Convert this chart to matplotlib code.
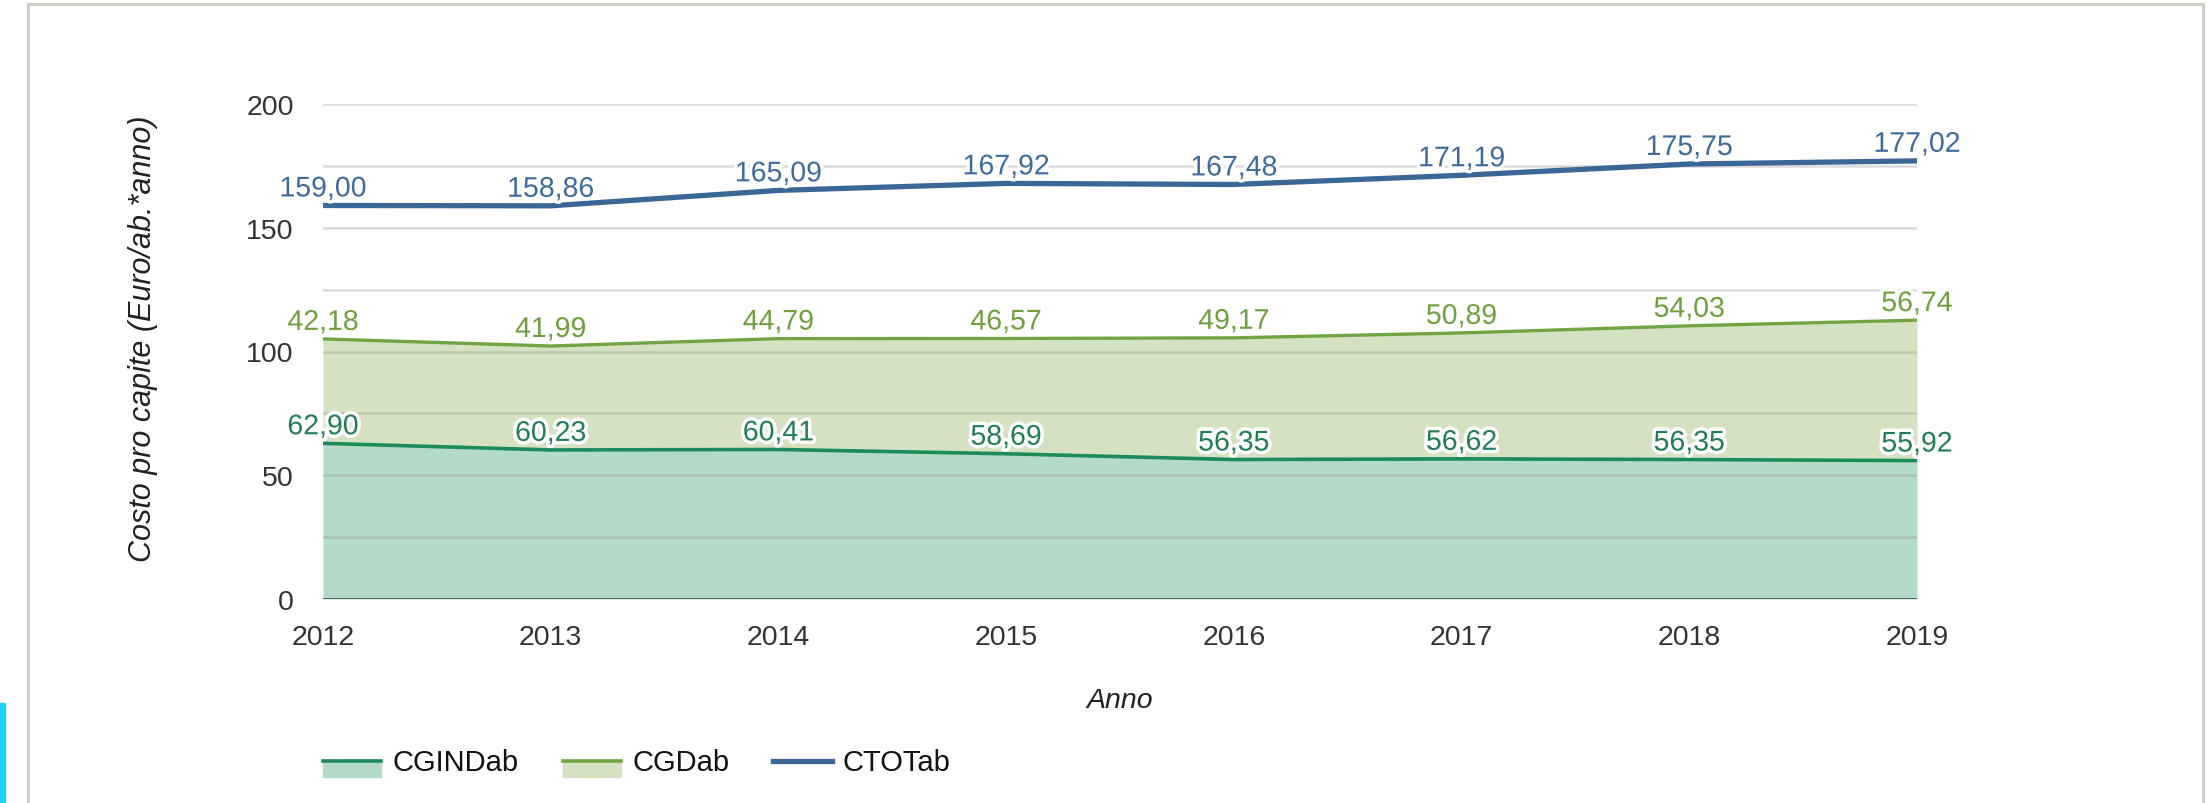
import matplotlib
matplotlib.use("Agg")
import matplotlib.pyplot as plt
import matplotlib.patheffects as pe
from matplotlib.patches import Rectangle
from matplotlib.lines import Line2D

plt.rcParams['font.family'] = ['Liberation Sans', 'DejaVu Sans']

# dati
anni = [2012, 2013, 2014, 2015, 2016, 2017, 2018, 2019]
cgind = [62.90, 60.23, 60.41, 58.69, 56.35, 56.62, 56.35, 55.92]
cgd = [42.18, 41.99, 44.79, 46.57, 49.17, 50.89, 54.03, 56.74]
ctot = [159.00, 158.86, 165.09, 167.92, 167.48, 171.19, 175.75, 177.02]
serie = ['CGINDab', 'CGDab', 'CTOTab']

col_ind, fill_ind = '#1d8a5b', '#b4dac9'
col_gd, fill_gd = '#72a444', '#d4e2c2'
col_tot = '#3b6796'

W, H = 2208, 804
fig = plt.figure(figsize=(W / 100, H / 100), dpi=100)
ax = fig.add_axes([323 / W, 1 - 600 / H, 1594 / W, 495 / H])

# area impilata
top_gd = [a + b for a, b in zip(cgind, cgd)]
ax.fill_between(anni, 0, cgind, color=fill_ind, lw=0, zorder=1)
ax.fill_between(anni, cgind, top_gd, color=fill_gd, lw=0, zorder=1)
ax.plot(anni, cgind, color=col_ind, lw=2.6, zorder=4)
ax.plot(anni, top_gd, color=col_gd, lw=2.4, zorder=4)
ax.plot(anni, ctot, color=col_tot, lw=3.8, zorder=4)

# griglia
for g in range(25, 201, 25):
    ax.axhline(g, color='#8a8a8a', alpha=0.3, lw=1.8, zorder=2)
ax.axhline(0, color='#555555', lw=2, zorder=5)

halo = [pe.withStroke(linewidth=5, foreground='white')]
def etichette(ys, vals, col):
    for x, y, v in zip(anni, ys, vals):
        ax.annotate(f"{v:.2f}".replace('.', ','), (x, y), xytext=(0, 6.5),
                    textcoords='offset points', ha='center', va='baseline',
                    fontsize=20.5, color=col, path_effects=halo, zorder=6,
                    annotation_clip=False)

etichette(ctot, ctot, '#3f6b9b')
etichette(top_gd, cgd, '#6f9f3f')
etichette(cgind, cgind, '#217d55')

ax.set_xlim(2012, 2019)
ax.set_ylim(0, 200)
ax.set_xticks(anni)
ax.set_yticks([0, 50, 100, 150, 200])
ax.tick_params(length=0, labelsize=20.5, labelcolor='#333333')
ax.tick_params(axis='x', pad=18)
ax.tick_params(axis='y', pad=21)
for s in ax.spines.values():
    s.set_visible(False)
ax.text(0.5, -0.204, 'Anno', transform=ax.transAxes, ha='center', va='center',
        fontsize=20.5, style='italic', color='#222222')
ax.text(-0.113, 0.527, 'Costo pro capite (Euro/ab.*anno)', transform=ax.transAxes,
        ha='center', va='center', rotation=90, fontsize=22, style='italic',
        color='#222222')

# legenda
def px(x, y):
    return x / W, 1 - y / H

leg_y = 762
for x0, fill, col, nome in [(323, fill_ind, col_ind, serie[0]),
                            (563, fill_gd, col_gd, serie[1])]:
    fig.patches.append(Rectangle(px(x0, 778), 58 / W, 17 / H,
                                 transform=fig.transFigure, color=fill))
    fig.lines.append(Line2D([x0 / W, (x0 + 58) / W], [px(0, leg_y)[1]] * 2,
                            transform=fig.transFigure, color=col, lw=2.6))
    fig.text(*px(x0 + 69, 763), nome, fontsize=21, va='center', color='#111111')
fig.lines.append(Line2D([773 / W, 832 / W], [px(0, leg_y)[1]] * 2,
                        transform=fig.transFigure, color=col_tot, lw=3.8))
fig.text(*px(843, 763), serie[2], fontsize=21, va='center', color='#111111')

# cornice
fig.patches.append(Rectangle(px(28, 850), 2175 / W, 845 / H,
                             transform=fig.transFigure, fill=False,
                             ec='#cdd1c6', lw=2.2))
fig.patches.append(Rectangle(px(0, 804), 5 / W, 100 / H,
                             transform=fig.transFigure, color='#19d3f0'))

fig.savefig('out.png', dpi=100)
